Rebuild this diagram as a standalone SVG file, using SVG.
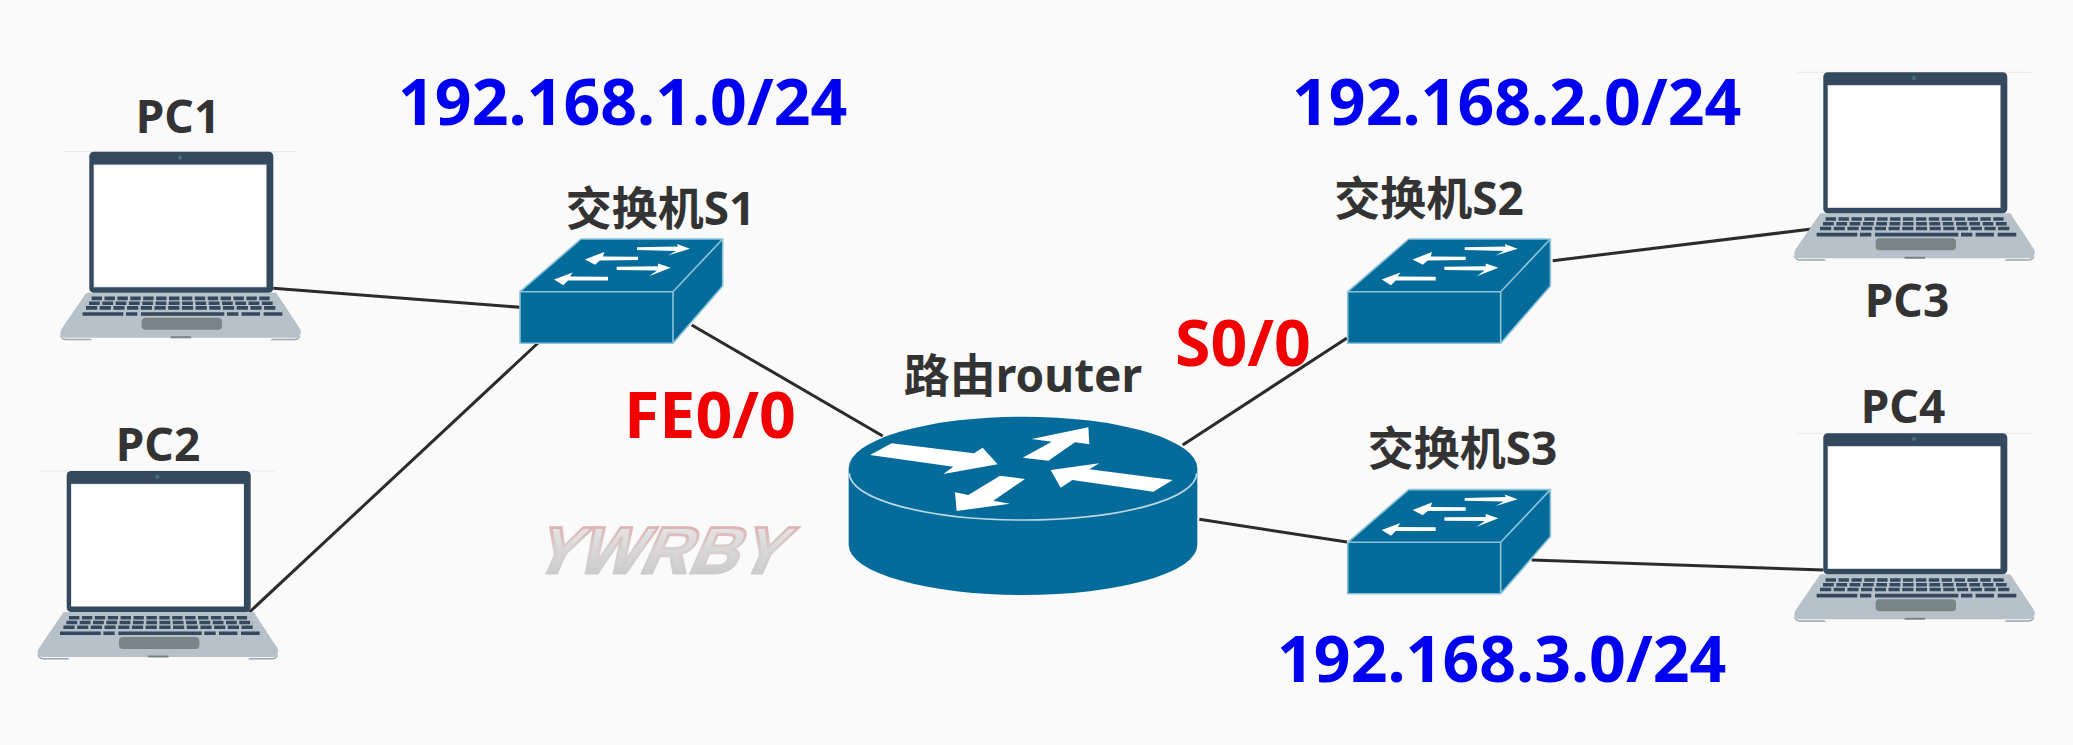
<svg xmlns="http://www.w3.org/2000/svg" xmlns:xlink="http://www.w3.org/1999/xlink" width="2073" height="745" viewBox="0 0 2073 745">
<style>
text{font-family:"Noto Sans","Noto Sans CJK SC",sans-serif;font-weight:700}
.lbl{font-size:46px;fill:#333;text-anchor:middle}
.net{font-size:64.400px;fill:#0000f0}
.port{font-size:64.400px;fill:#f00000}
.link{stroke:#2b2b2b;stroke-width:3;fill:none}
.blue{fill:#046b9b}
.edge{fill:none;stroke:#8fc3d9;stroke-width:1.6;stroke-linejoin:round}
.wh{fill:#fff}
.key{fill:none;stroke:#34495e;stroke-width:3.6}
</style>
<defs>
<linearGradient id="wm" x1="0" y1="0" x2="0" y2="1"><stop offset="0" stop-color="#ececec"/><stop offset="1" stop-color="#c4c4c4"/></linearGradient>
<linearGradient id="wms" x1="0" y1="0" x2="0" y2="1"><stop offset="0" stop-color="#dc7070"/><stop offset=".16" stop-color="#e0b0b0"/><stop offset=".5" stop-color="#d8d0d0"/><stop offset="1" stop-color="#c8c8c8"/></linearGradient>
<g id="laptop">
<path d="M-26 0H208" stroke="#e6e6e6" stroke-width="1" fill="none"/>
<path d="M-3 141H187L210 176Q213 180 210 184Q209 186 205 186H-23Q-27 186 -28.500 184Q-30 180 -27 176Z" fill="#b6c1c9"/>
<path d="M-29 183Q-27 187 -23 187H1L3 188.500H181L183 187H205Q209 187 211 183V185Q209 188.500 205 188.500H-23Q-27 188.500 -29 185Z" fill="#9aa6a8"/>
<rect x="81" y="184.500" width="21" height="2" rx="1" fill="#7a8487"/>
<rect x="0" y="0" width="184" height="141" rx="4.500" fill="#34495e"/>
<rect x="4.300" y="12.800" width="173" height="122.800" fill="#d5dbdf"/>
<rect x="5" y="13.500" width="171.700" height="121.500" class="wh"/>
<circle cx="90.700" cy="5.700" r="2" fill="#4c6f7f"/>
<path class="key" d="M2.300 146.700H180.600" stroke-dasharray="10.400 2.500"/>
<path class="key" d="M-.3 151.500H186" stroke-dasharray="10.800 2.500"/>
<path class="key" d="M-3.300 156.200H186" stroke-dasharray="11.200 2.500"/>
<path class="key" d="M-6.700 162.300H34M36.700 162.300H48M51.700 162.300H135M137.700 162.300H149M152.300 162.300H170.700M174.300 162.300H193"/>
<rect x="52.300" y="166" width="80.400" height="12" rx="4" fill="#7a8487"/>
</g>
<g id="switch">
<path class="blue" d="M0 0L61 -52.700H202.700V-5.700L153 51.500H0Z"/>
<path class="edge" d="M0 0L61 -52.700H202.700V-5.700L153 51.500H0ZM0 0H153V51.500M153 0L202.700 -52.700"/>
<path class="wh" d="M117 -44.400L158 -45.200L157 -47.800L170 -43L148 -36.300L156 -40.800L117 -41.600ZM118 -35L83 -35.200L84.300 -39.800L65 -32.300L75 -27L80 -31.300L118 -31.600ZM96.700 -25L138 -25.400L138 -28.300L150.700 -24L129 -15.500L137 -21.300L96.700 -21.600ZM88 -15L50 -15.200L52.700 -19.300L34 -12.300L43.300 -6.500L48 -11.300L88 -11.300Z"/>
</g>
</defs>
<rect width="2073" height="745" fill="#fafafa"/>
<g id="connectors">
<path class="link" d="M273.300 288.300L520 307.300"/>
<path class="link" d="M538 343L249.300 612.300"/>
<path class="link" d="M691.700 325L882.700 436"/>
<path class="link" d="M1182.700 445L1347 338"/>
<path class="link" d="M1552.700 260.700L1811.700 229"/>
<path class="link" d="M1199.300 519.300L1347 542"/>
<path class="link" d="M1531.700 560L1823.300 570"/>
</g>
<g id="pc1"><use xlink:href="#laptop" href="#laptop" x="89.300" y="151.700"/><text class="lbl" x="178" y="132.700">PC1</text></g>
<g id="pc2"><use xlink:href="#laptop" href="#laptop" x="66.700" y="471"/><text class="lbl" x="158" y="461">PC2</text></g>
<g id="pc3"><use xlink:href="#laptop" href="#laptop" x="1823.300" y="72.300"/><text class="lbl" x="1907" y="316.700">PC3</text></g>
<g id="pc4"><use xlink:href="#laptop" href="#laptop" x="1823.300" y="433.300"/><text class="lbl" x="1903" y="423">PC4</text></g>
<g id="s1"><use xlink:href="#switch" href="#switch" x="520" y="291.700"/><text class="lbl" x="660.500" y="225">交换机S1</text></g>
<g id="s2"><use xlink:href="#switch" href="#switch" x="1347.700" y="291.700"/><text class="lbl" x="1429" y="215">交换机S2</text></g>
<g id="s3"><use xlink:href="#switch" href="#switch" x="1347.700" y="542.300"/><text class="lbl" x="1462.500" y="465">交换机S3</text></g>
<g id="router">
<g transform="translate(820 410) scale(.33333)">
<path class="blue" d="M86 175A523 155 0 0 1 1132 175V405A523 150 0 0 1 86 405Z"/>
<path d="M88 190A521 140 0 0 0 1130 190" fill="none" stroke="#bcd8e5" stroke-width="5"/>
<path class="wh" d="M215 100L462 130L488 113L533 163L370 192L400 170L150 135ZM608 143L695 95L635 87L805 52L808 103L765 97L685 152ZM1058 210L1000 245L757 210L722 233L692 180L838 160L808 178ZM615 207L520 272L570 281L410 303L405 247L445 255L540 197Z"/>
</g>
<text class="lbl" x="1023" y="392">路由router</text>
</g>
<g id="labels">
<text class="net" x="398" y="125">192.168.1.0/24</text>
<text class="net" x="1292" y="125">192.168.2.0/24</text>
<text class="net" x="1277" y="682">192.168.3.0/24</text>
<text class="port" x="624" y="437.500">FE0/0</text>
<text class="port" x="1175" y="366">S0/0</text>
</g>
<g id="watermark" transform="translate(529 574) skewX(-24)">
<text x="0" y="-1" font-size="66" textLength="250" lengthAdjust="spacingAndGlyphs" style="font-family:'Liberation Sans',sans-serif" fill="url(#wm)" stroke="url(#wms)" stroke-width="2.800">YWRBY</text>
</g>
</svg>
